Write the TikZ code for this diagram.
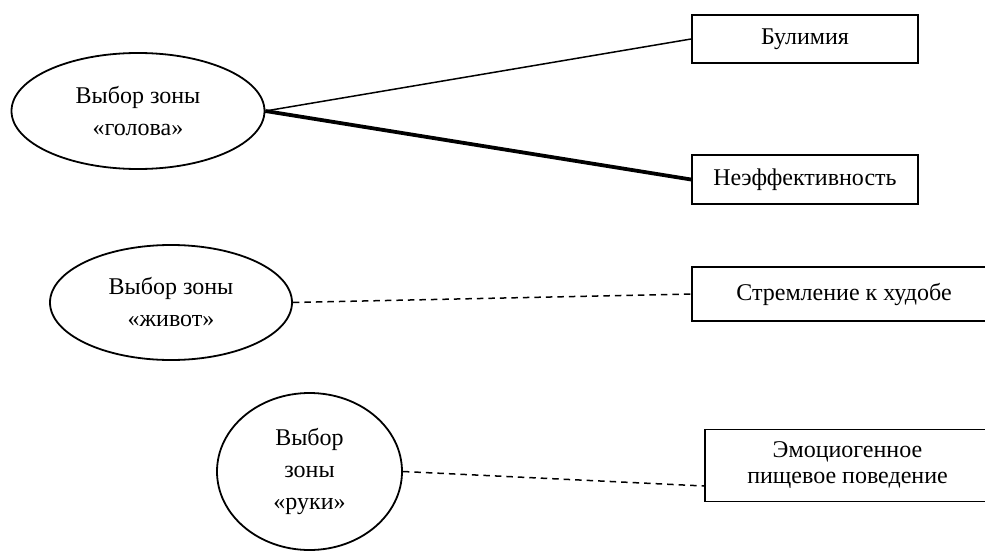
\documentclass[tikz,border=0pt]{standalone}
\usepackage{fontspec}
\setmainfont{Liberation Serif}
\usetikzlibrary{shapes.geometric,calc}
\tikzset{
  zone/.style={ellipse, draw, line width=1.8pt, inner sep=0pt, align=center,
    font=\fontsize{24}{32}\selectfont},
  item/.style={rectangle, draw, line width=1.9pt, inner sep=0pt, align=center,
    font=\fontsize{24}{26}\selectfont},
  thin link/.style={line width=1.5pt},
  thick link/.style={line width=3.8pt},
  dash link/.style={line width=1.5pt, dash pattern=on 6.5pt off 5pt}
}
\begin{document}
\begin{tikzpicture}[x=1pt, y=-1pt]
\useasboundingbox (0,0) rectangle (985,551);
\clip (0,0) rectangle (985,551);
\fill[white] (0,0) rectangle (985,551);

\node[zone, minimum width=253pt, minimum height=116pt] (e1) at (138,111) {Выбор зоны\\«голова»};
\node[zone, minimum width=242pt, minimum height=115pt] (e2) at (171,302.5) {Выбор зоны\\«живот»};
\node[zone, minimum width=185pt, minimum height=157pt] (e3) at (309.5,471.5) {Выбор\\зоны\\«руки»};

\node[item, minimum width=226pt, minimum height=48pt] (b1) at (805,39) {Булимия};
\node[item, minimum width=226pt, minimum height=49pt] (b2) at (805,179.5) {Неэффективность};
\node[item, minimum width=304pt, minimum height=54pt] (b3) at (844,294) {Стремление к худобе};
\node[item, minimum width=285pt, minimum height=72pt] (b4) at (847.5,465.5) {Эмоциогенное\\пищевое поведение};

\coordinate (b4in) at ($(b4.west)+(0,20.5)$);

\draw[thin link] (e1.east) -- (b1.west);
\draw[thick link] (e1.east) -- (b2.west);
\draw[dash link] (e2.east) -- (b3.west);
\draw[dash link] (e3.east) -- (b4in);
\end{tikzpicture}
\end{document}
